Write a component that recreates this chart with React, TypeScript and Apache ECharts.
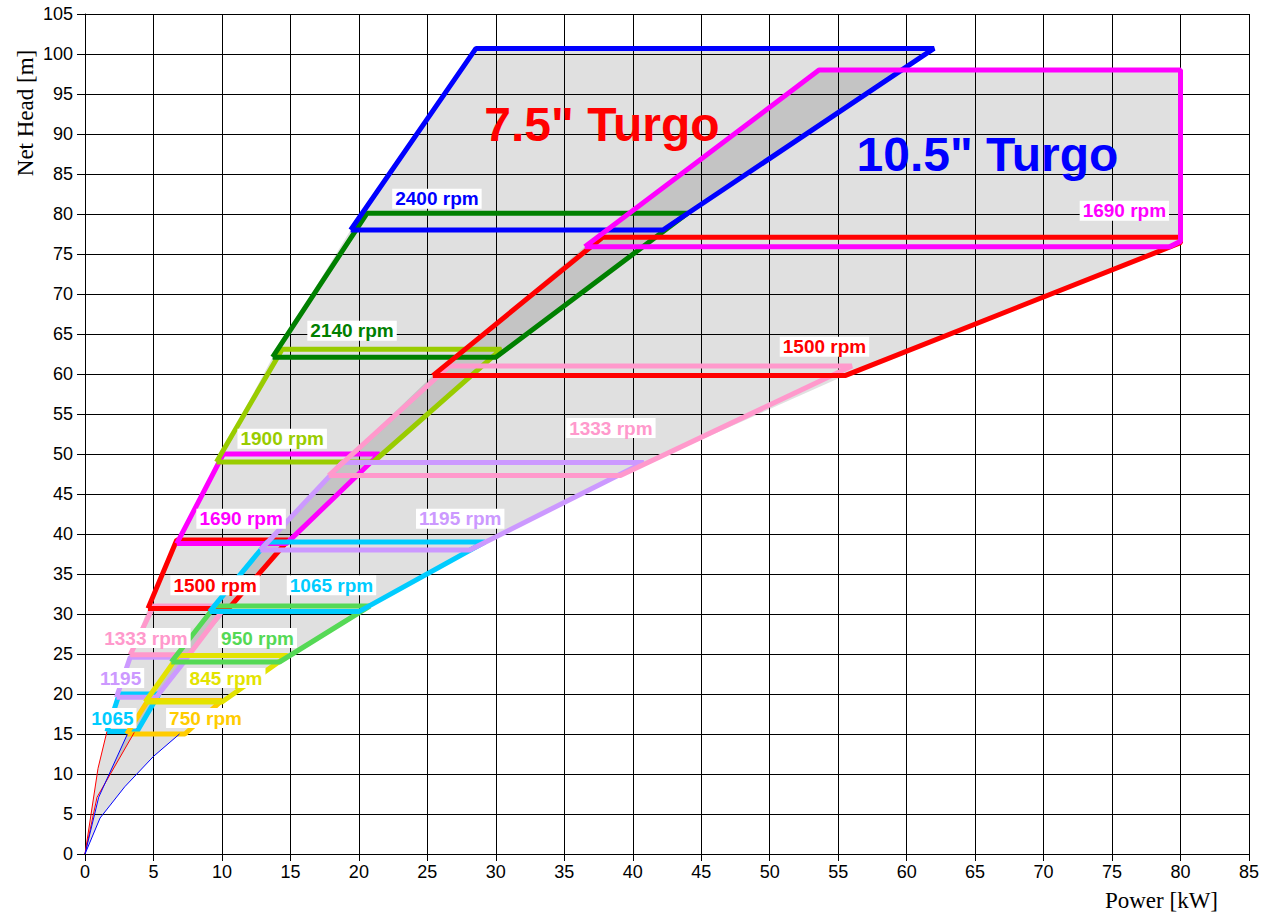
import React, { useEffect, useRef } from 'react';
import * as echarts from 'echarts';

type Pt = [number, number];

// ---- 7.5" Turgo bands: corners [kW, m] (BL, BR, TR, TL)
const t75_1065: Pt[] = [[1.6, 15.3], [3.8, 15.3], [5.4, 20.0], [2.5, 20.0]];
const t75_1195: Pt[] = [[2.3, 19.6], [5.2, 19.6], [7.5, 24.6], [3.3, 24.6]];
const t75_1333: Pt[] = [[3.3, 24.9], [7.6, 24.9], [10.3, 31.0], [5.0, 31.0]];
const t75_1500: Pt[] = [[4.6, 30.7], [10.5, 30.7], [14.85, 39.25], [6.7, 39.25]];
const t75_1690: Pt[] = [[6.7, 38.8], [14.7, 38.8], [21.5, 50.0], [10.1, 50.0]];
const t75_1900: Pt[] = [[9.6, 49.0], [21.05, 49.0], [30.4, 63.1], [14.4, 63.1]];
const t75_2140: Pt[] = [[13.7, 62.1], [30.0, 62.1], [44.0, 80.1], [20.6, 80.1]];
const t75_2400: Pt[] = [[19.4, 78.0], [42.2, 78.0], [62.0, 100.7], [28.55, 100.7]];

// ---- 10.5" Turgo bands
const t105_750: Pt[] = [[3.05, 15.0], [7.3, 15.0], [10.0, 19.2], [4.6, 19.2]];
const t105_845: Pt[] = [[4.4, 19.0], [10.0, 19.0], [14.8, 24.8], [6.8, 24.8]];
const t105_950: Pt[] = [[6.3, 24.0], [14.2, 24.0], [20.8, 31.0], [9.5, 31.0]];
const t105_1065: Pt[] = [[9.1, 30.3], [20.0, 30.3], [29.2, 39.0], [13.3, 39.0]];
const t105_1195: Pt[] = [[12.8, 38.0], [28.1, 38.0], [40.8, 48.95], [18.8, 48.95]];
const t105_1333: Pt[] = [[17.8, 47.3], [39.1, 47.3], [56.0, 61.0], [26.6, 61.0]];
const t105_1500: Pt[] = [[25.4, 59.8], [55.5, 59.8], [80.0, 76.4], [80.0, 77.1], [37.8, 77.1]];
const t105_1690: Pt[] = [[36.5, 75.9], [79.2, 75.9], [80.0, 76.6], [80.0, 98.0], [53.6, 98.0]];

// ---- thin low-head lines
const t75LeftFoot: Pt[] = [[0, 0], [0.95, 10.7], [1.6, 15.3]];
const t75RightFoot: Pt[] = [[0, 0], [0.88, 7.1], [3.6, 15.2]];
const t105LeftFoot: Pt[] = [[0, 0], [1.0, 7.1], [3.1, 15.0]];
const t105RightFoot: Pt[] = [[0, 0], [1.1, 4.5], [2.9, 8.4], [5.0, 12.2], [6.9, 15.0]];

const t75Bands = [t75_1065, t75_1195, t75_1333, t75_1500, t75_1690, t75_1900, t75_2140, t75_2400];
const t75Colors = ['#00ccff', '#cc99ff', '#ff99cc', '#ff0000', '#ff00ff', '#99cc00', '#008000', '#0000ff'];
const t105Bands = [t105_750, t105_845, t105_950, t105_1065, t105_1195, t105_1333, t105_1500, t105_1690];
const t105Colors = ['#ffcc00', '#e3e300', '#55d955', '#00ccff', '#cc99ff', '#ff99cc', '#ff0000', '#ff00ff'];

// ---- labels
const labelTexts = ['2400 rpm', '2140 rpm', '1900 rpm', '1690 rpm', '1500 rpm', '1333 rpm', '1195', '1065',
  '750 rpm', '845 rpm', '950 rpm', '1065 rpm', '1195 rpm', '1333 rpm', '1500 rpm', '1690 rpm'];
const labelX = [25.7, 19.5, 14.4, 11.4, 9.5, 4.45, 2.6, 2.0, 8.8, 10.3, 12.6, 18.0, 27.4, 38.4, 54.0, 75.9];
const labelY = [81.9, 65.4, 51.9, 41.9, 33.6, 27.0, 22.0, 17.0, 17.0, 22.0, 27.0, 33.6, 41.9, 53.25, 63.4, 80.4];
const labelColors = ['#0000ff', '#008000', '#99cc00', '#ff00ff', '#ff0000', '#ff99cc', '#cc99ff', '#00ccff',
  '#ffcc00', '#e3e300', '#55d955', '#00ccff', '#cc99ff', '#ff99cc', '#ff0000', '#ff00ff'];

const titleTexts = ['7.5" Turgo', '10.5" Turgo'];
const titleX = [37.75, 65.9];
const titleY = [91.25, 87.5];
const titleColors = ['#ff0000', '#0000ff'];

function envelope(bands: Pt[][], leftFoot: Pt[], rightFoot: Pt[]): Pt[] {
  const last = bands[bands.length - 1];
  return [
    ...leftFoot,
    ...bands.map((b) => b[0]),
    last[last.length - 1],
    ...last.slice(1, -1).reverse(),
    ...bands.slice(0, -1).reverse().map((b) => b[1]),
    ...[...rightFoot].reverse(),
  ];
}

const envelopes = [
  envelope(t75Bands, t75LeftFoot, t75RightFoot),
  envelope(t105Bands, t105LeftFoot, t105RightFoot),
];

export default function App() {
  const ref = useRef<HTMLDivElement>(null);
  useEffect(() => {
    if (!ref.current) return;
    const chart = echarts.init(ref.current, undefined, { renderer: 'svg' });
    const sans = '"Liberation Sans", Arial, sans-serif';

    const bandSeries: any[] = [];
    t75Bands.forEach((b, i) => {
      bandSeries.push({
        type: 'line', data: [...b, b[0]], symbol: 'none', showSymbol: false, silent: true,
        lineStyle: { color: t75Colors[i], width: 5 }, itemStyle: { color: t75Colors[i] }, z: 3,
      });
    });
    t105Bands.forEach((b, i) => {
      bandSeries.push({
        type: 'line', data: [...b, b[0]], symbol: 'none', showSymbol: false, silent: true,
        lineStyle: { color: t105Colors[i], width: 5 }, itemStyle: { color: t105Colors[i] }, z: 3,
      });
    });
    const thin = [
      [t75LeftFoot, '#ff0000'], [t75RightFoot, '#ff0000'],
      [t105LeftFoot, '#0000ff'], [t105RightFoot, '#0000ff'],
    ] as [Pt[], string][];
    thin.forEach(([d, c]) => {
      bandSeries.push({
        type: 'line', data: d, symbol: 'none', showSymbol: false, silent: true,
        lineStyle: { color: c, width: 1 }, z: 3,
      });
    });

    const labelData = labelTexts.map((t, i) => ({
      value: [labelX[i], labelY[i]],
      label: {
        show: true, position: 'inside', formatter: t, color: labelColors[i],
        fontFamily: sans, fontWeight: 'bold', fontSize: 19, opacity: 1,
        backgroundColor: '#ffffff', padding: [1, 3, 0, 3],
      },
    }));
    const titleData = titleTexts.map((t, i) => ({
      value: [titleX[i], titleY[i]],
      label: {
        show: true, position: 'inside', formatter: t, color: titleColors[i],
        fontFamily: sans, fontWeight: 'bold', fontSize: 48, opacity: 1,
      },
    }));

    chart.setOption({
      animation: false,
      backgroundColor: '#ffffff',
      grid: { left: 85, top: 14, right: 15, bottom: 60, containLabel: false },
      xAxis: {
        type: 'value', min: 0, max: 85, interval: 5,
        axisLine: { show: true, onZero: false, lineStyle: { color: '#000', width: 1 } },
        axisTick: { show: true, length: 7, lineStyle: { color: '#000' } },
        axisLabel: { color: '#000', fontSize: 18, fontFamily: sans, margin: 9 },
        splitLine: { show: true, lineStyle: { color: '#000', width: 1 } },
      },
      yAxis: {
        type: 'value', min: 0, max: 105, interval: 5,
        axisLine: { show: true, onZero: false, lineStyle: { color: '#000', width: 1 } },
        axisTick: { show: true, length: 8, lineStyle: { color: '#000' } },
        axisLabel: { color: '#000', fontSize: 18, fontFamily: sans, margin: 12 },
        splitLine: { show: true, lineStyle: { color: '#000', width: 1 } },
      },
      graphic: [
        {
          type: 'text', x: 25, y: 113, rotation: Math.PI / 2,
          style: {
            text: 'Net Head [m]', font: '23px "Liberation Serif", "Times New Roman", serif',
            fill: '#000', textAlign: 'center', textVerticalAlign: 'middle',
          },
        },
        {
          type: 'text', x: 1218, y: 900,
          style: {
            text: 'Power [kW]', font: '23px "Liberation Serif", "Times New Roman", serif',
            fill: '#000', textAlign: 'right', textVerticalAlign: 'middle',
          },
        },
      ],
      series: [
        {
          type: 'custom', coordinateSystem: 'cartesian2d', silent: true, z: 1,
          data: envelopes.map((_, i) => [i, 0]),
          encode: { x: 0, y: 1 },
          renderItem: (params: any, api: any) => {
            const poly = envelopes[params.dataIndex];
            return {
              type: 'polygon',
              shape: { points: poly.map((p) => api.coord(p)) },
              style: { fill: 'rgba(0,0,0,0.12)', stroke: null, lineWidth: 0 },
            };
          },
        },
        ...bandSeries,
        {
          type: 'scatter', symbolSize: 0, silent: true, z: 10,
          itemStyle: { opacity: 1 },
          emphasis: { disabled: true },
          data: [...labelData, ...titleData],
        },
      ],
    });
    return () => chart.dispose();
  }, []);
  return (
    <div
      ref={ref}
      style={{ position: 'absolute', left: 0, top: 0, width: 1264, height: 914, background: '#fff' }}
    />
  );
}
